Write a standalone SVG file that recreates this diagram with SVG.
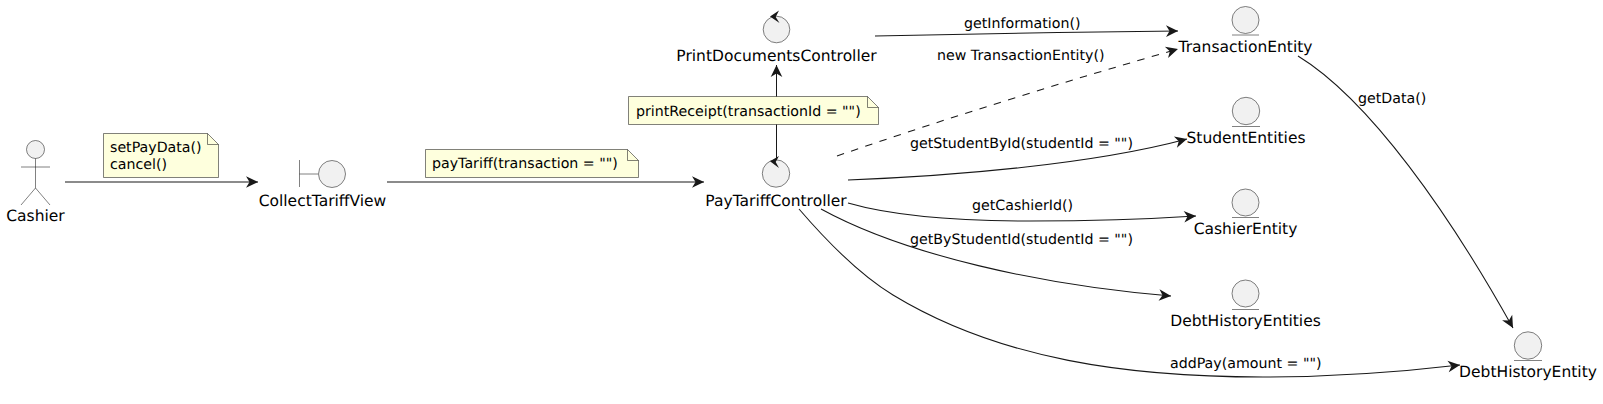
<svg xmlns="http://www.w3.org/2000/svg" width="1603" height="404" viewBox="0 0 1603 404">
<style>
text{font-family:"DejaVu Sans",sans-serif;fill:#000;text-rendering:geometricPrecision}
.n{font-size:15.5px;text-anchor:middle}
.l{font-size:14.2px}
.s{fill:#F1F1F1;stroke:#181818;stroke-width:.55}
.u{fill:none;stroke:#181818;stroke-width:.55}
.h{fill:#181818;stroke:none}
.c{fill:none;stroke:#181818;stroke-width:1.05}
.d{stroke-dasharray:7.5 7.5}
.note{fill:#FEFFDD;stroke:#181818;stroke-width:.55}
</style>
<defs>
<marker id="a" markerUnits="userSpaceOnUse" markerWidth="16" markerHeight="14" refX="13" refY="7" viewBox="0 0 16 14" orient="auto" overflow="visible"><path class="h" d="M13,7 L1,1.200 L4.500,7 L1,12.800 Z"/></marker>
</defs>
<g id="connectors">
<path class="c" marker-end="url(#a)" d="M65,182 L258,182"/>
<path class="c" marker-end="url(#a)" d="M387,182 L704,182"/>
<path class="c" marker-end="url(#a)" d="M776.500,160 L776.500,65"/>
<path class="c" marker-end="url(#a)" d="M875,36 C960,34 1080,32 1178,31"/>
<path class="c d" marker-end="url(#a)" d="M837,156 C950,117 1070,80 1178,49"/>
<path class="c" marker-end="url(#a)" d="M848,180 C950,176 1090,165 1187,139"/>
<path class="c" marker-end="url(#a)" d="M848,203 C900,218 970,221 1030,221 C1090,221 1150,219 1196,216"/>
<path class="c" marker-end="url(#a)" d="M821,209 C905,255 1040,285 1171,296"/>
<path class="c" marker-end="url(#a)" d="M799,209 C830,245 860,275 893,295 C1000,360 1130,377 1263,377 C1340,377 1400,372 1460,365"/>
<path class="c" marker-end="url(#a)" d="M1298,56 C1370,100 1450,215 1513,328"/>
</g>
<g id="labels">
<text class="l" x="964" y="27.500">getInformation()</text>
<text class="l" x="937" y="60">new TransactionEntity()</text>
<text class="l" x="910" y="148">getStudentById(studentId = "")</text>
<text class="l" x="972" y="210">getCashierId()</text>
<text class="l" x="910" y="244">getByStudentId(studentId = "")</text>
<text class="l" x="1170" y="368">addPay(amount = "")</text>
<text class="l" x="1358" y="103">getData()</text>
</g>
<g id="Cashier">
<circle class="s" cx="35.500" cy="149.500" r="9"/>
<path class="u" d="M35.500,158.500 V188 M21,167 H50 M35.500,188 L21,205 M35.500,188 L50,205"/>
<text class="n" x="35.500" y="221">Cashier</text>
</g>
<g id="CollectTariffView">
<path class="u" d="M299.500,160 V187 M299.500,174 H318"/>
<circle class="s" cx="332" cy="174" r="13.500"/>
<text class="n" x="322.500" y="205.500">CollectTariffView</text>
</g>
<g id="PayTariffController">
<circle class="s" cx="776" cy="173.500" r="13.700"/>
<path class="h" d="M779,156 L770,161.300 L779,168 L775.700,162 Z"/>
<text class="n" x="776" y="205.500">PayTariffController</text>
</g>
<g id="PrintDocumentsController">
<circle class="s" cx="776.500" cy="29.500" r="13.300"/>
<path class="h" d="M779,10.500 L770,16.500 L779.500,23 L775.700,17 Z"/>
<text class="n" x="776.500" y="61">PrintDocumentsController</text>
</g>
<g id="TransactionEntity">
<circle class="s" cx="1245.500" cy="20" r="13.500"/>
<path class="u" d="M1232,35 H1259"/>
<text class="n" x="1245.500" y="52">TransactionEntity</text>
</g>
<g id="StudentEntities">
<circle class="s" cx="1246" cy="111" r="13.700"/>
<path class="u" d="M1232,126.500 H1260"/>
<text class="n" x="1246" y="143">StudentEntities</text>
</g>
<g id="CashierEntity">
<circle class="s" cx="1245.500" cy="202.500" r="13.500"/>
<path class="u" d="M1232,217.500 H1259"/>
<text class="n" x="1245.500" y="234">CashierEntity</text>
</g>
<g id="DebtHistoryEntities">
<circle class="s" cx="1245.500" cy="293.500" r="13.500"/>
<path class="u" d="M1232,309.500 H1259"/>
<text class="n" x="1245.500" y="326">DebtHistoryEntities</text>
</g>
<g id="DebtHistoryEntity">
<circle class="s" cx="1528" cy="345.500" r="13.700"/>
<path class="u" d="M1514,360.500 H1542"/>
<text class="n" x="1528" y="377">DebtHistoryEntity</text>
</g>
<g id="note-setPayData">
<path class="note" d="M103.500,133.500 H207.500 L218.500,144.500 V177.500 H103.500 Z"/>
<path class="u" d="M207.500,133.500 V144.500 H218.500"/>
<text class="l" x="110" y="152">setPayData()</text>
<text class="l" x="110" y="169">cancel()</text>
</g>
<g id="note-payTariff">
<path class="note" d="M425.500,149.500 H627.500 L638.500,160.500 V177.500 H425.500 Z"/>
<path class="u" d="M627.500,149.500 V160.500 H638.500"/>
<text class="l" x="432" y="168">payTariff(transaction = "")</text>
</g>
<g id="note-printReceipt">
<path class="note" d="M628.500,96.500 H867.500 L878.500,107.500 V124.500 H628.500 Z"/>
<path class="u" d="M867.500,96.500 V107.500 H878.500"/>
<text class="l" x="636" y="116">printReceipt(transactionId = "")</text>
</g>
</svg>
